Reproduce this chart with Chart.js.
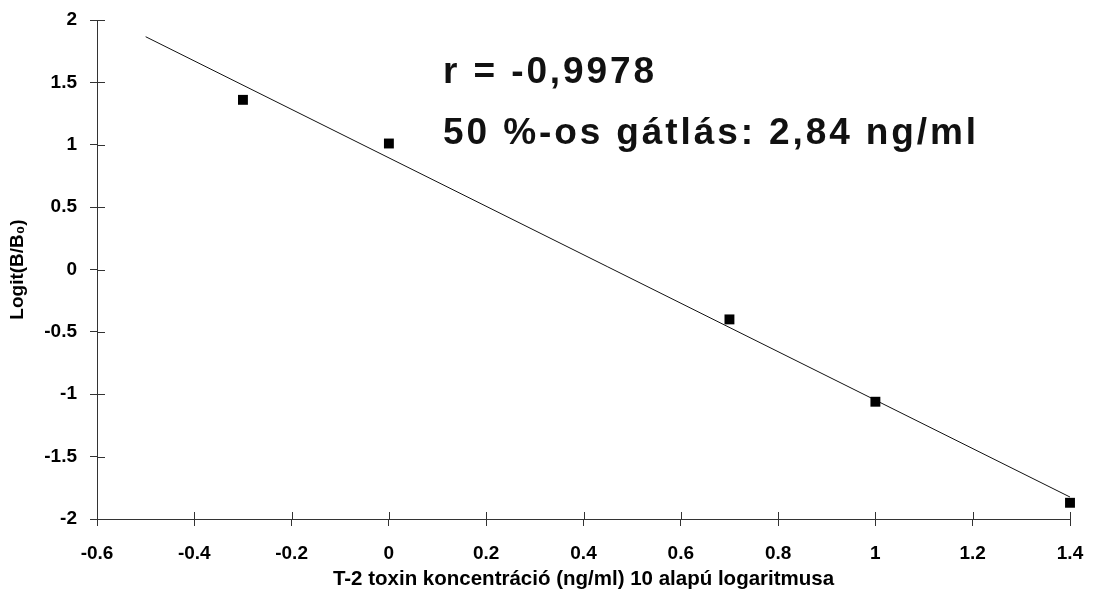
<!DOCTYPE html>
<html>
<head>
<meta charset="utf-8">
<script src="https://cdn.jsdelivr.net/npm/chart.js@4"></script>
<style>
  body { margin: 0; background: #fff; }
  #wrap { width: 1093px; height: 595px; }
</style>
</head>
<body>
<div id="wrap"><canvas id="logit_chart"></canvas></div>
<script>
// measured points: log10 of concentration vs logit(B/B0)
const logConc = [-0.3, 0, 0.7, 1, 1.4];
const logitVals = [1.36, 1.01, -0.40, -1.06, -1.87];

// fitted regression line end points
const fitX = [-0.5, 1.4];
const fitY = [1.866, -1.824];

const xTicks = [-0.6, -0.4, -0.2, 0, 0.2, 0.4, 0.6, 0.8, 1, 1.2, 1.4];
const yTicks = [-2, -1.5, -1, -0.5, 0, 0.5, 1, 1.5, 2];

const notes = ['r = -0,9978', '50 %-os gátlás: 2,84 ng/ml'];

const fam = '"Liberation Sans", Arial, sans-serif';
const tickFont = { family: fam, size: 19, weight: 'bold' };

// ticks in the picture cross the axis, chart.js only draws them outside
const innerTicks = {
  id: 'innerTicks',
  afterDraw(chart) {
    const ctx = chart.ctx;
    const x = chart.scales.x, y = chart.scales.y;
    ctx.save();
    ctx.strokeStyle = '#333';
    ctx.lineWidth = 1;
    ctx.beginPath();
    xTicks.forEach(v => {
      const px = Math.round(x.getPixelForValue(v)) + 0.5;
      ctx.moveTo(px, x.top);
      ctx.lineTo(px, x.top - 7);
    });
    yTicks.forEach(v => {
      const py = Math.round(y.getPixelForValue(v)) + 0.5;
      ctx.moveTo(y.right, py);
      ctx.lineTo(y.right + 8, py);
    });
    ctx.stroke();
    ctx.restore();
  }
};

const notesPlugin = {
  id: 'notes',
  afterDraw(chart) {
    const ctx = chart.ctx;
    ctx.save();
    ctx.fillStyle = '#111';
    ctx.font = 'bold 37px ' + fam;
    ctx.letterSpacing = '2.9px';
    ctx.textBaseline = 'alphabetic';
    ctx.fillText(notes[0], 443, 83);
    ctx.fillText(notes[1], 443, 144);
    ctx.restore();
  }
};

const points = logConc.map((v, i) => ({ x: v, y: logitVals[i] }));
const fit = fitX.map((v, i) => ({ x: v, y: fitY[i] }));

new Chart(document.getElementById('logit_chart'), {
  type: 'scatter',
  data: {
    datasets: [{
      label: 'mért',
      data: points,
      pointStyle: 'rect',
      pointRadius: 7,
      backgroundColor: '#000',
      borderColor: '#000',
      borderWidth: 0,
      clip: false
    },
    {
      label: 'illesztés',
      data: fit,
      showLine: true,
      pointRadius: 0,
      borderColor: '#111',
      borderWidth: 1
    }]
  },
  plugins: [innerTicks, notesPlugin],
  options: {
    responsive: true,
    maintainAspectRatio: false,
    animation: false,
    layout: { padding: { top: 20, right: 23, left: 0, bottom: 0 } },
    plugins: {
      legend: { display: false },
      tooltip: { enabled: false }
    },
    scales: {
      x: {
        type: 'linear',
        min: -0.6,
        max: 1.4,
        afterBuildTicks: s => { s.ticks = xTicks.map(v => ({ value: v })); },
        afterFit: s => { s.height = 76; s.paddingLeft = 0; s.paddingRight = 0; },
        ticks: { color: '#000', font: tickFont, padding: 16, maxRotation: 0, autoSkip: false, callback: v => String(v) },
        grid: { drawOnChartArea: false, drawTicks: true, tickLength: 7, color: '#333' },
        border: { display: true, color: '#333', width: 1 },
        title: {
          display: true,
          text: 'T-2 toxin koncentráció (ng/ml) 10 alapú logaritmusa',
          color: '#000',
          font: { family: fam, size: 20.5, weight: 'bold' },
          padding: { top: 0, bottom: 3 }
        }
      },
      y: {
        type: 'linear',
        min: -2,
        max: 2,
        afterBuildTicks: s => { s.ticks = yTicks.map(v => ({ value: v })); },
        afterFit: s => { s.width = 97; s.paddingTop = 0; s.paddingBottom = 0; },
        ticks: { color: '#000', font: tickFont, padding: 13, callback: v => String(v) },
        grid: { drawOnChartArea: false, drawTicks: true, tickLength: 7, color: '#333' },
        border: { display: true, color: '#333', width: 1 },
        title: {
          display: true,
          text: 'Logit(B/B₀)',
          color: '#000',
          font: { family: fam, size: 19, weight: 'bold' },
          padding: { top: 6, bottom: 0 }
        }
      }
    }
  }
});
</script>
</body>
</html>
